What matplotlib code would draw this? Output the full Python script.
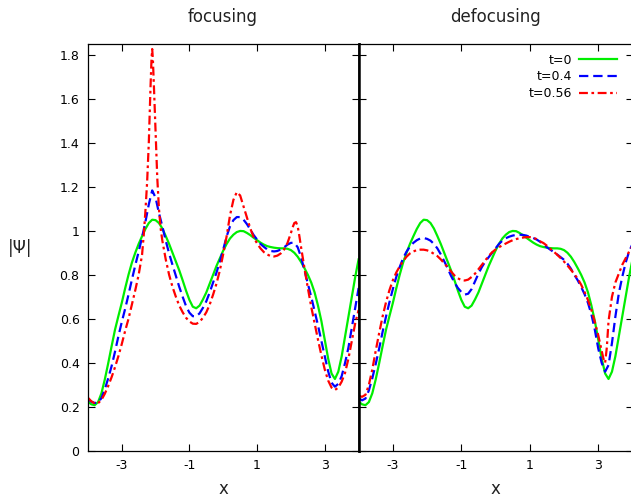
"""
# |Psi| profiles for focusing and defocusing cases
"""

### Packages
import matplotlib
matplotlib.use("Agg")
import matplotlib.pyplot as plt

### Data (every 0.1 in x)
x_grid = [-4.0, -3.9, -3.8, -3.7, -3.6, -3.5, -3.4, -3.3, -3.2, -3.1,
          -3.0, -2.9, -2.8, -2.7, -2.6, -2.5, -2.4, -2.3, -2.2, -2.1,
          -2.0, -1.9, -1.8, -1.7, -1.6, -1.5, -1.4, -1.3, -1.2, -1.1,
          -1.0, -0.9, -0.8, -0.7, -0.6, -0.5, -0.4, -0.3, -0.2, -0.1,
          0.0, 0.1, 0.2, 0.3, 0.4, 0.5, 0.6, 0.7, 0.8, 0.9,
          1.0, 1.1, 1.2, 1.3, 1.4, 1.5, 1.6, 1.7, 1.8, 1.9,
          2.0, 2.1, 2.2, 2.3, 2.4, 2.5, 2.6, 2.7, 2.8, 2.9,
          3.0, 3.1, 3.2, 3.3, 3.4, 3.5, 3.6, 3.7, 3.8, 3.9, 4.0]

# t=0, same initial condition in both panels
psi_t0 = [0.224, 0.212, 0.208, 0.222, 0.262, 0.325, 0.398, 0.475, 0.55, 0.612,
          0.672, 0.738, 0.8, 0.855, 0.9, 0.94, 0.975, 1.008, 1.035, 1.05,
          1.048, 1.035, 1.01, 0.976, 0.94, 0.9, 0.86, 0.82, 0.775, 0.728,
          0.686, 0.655, 0.648, 0.66, 0.688, 0.72, 0.76, 0.8, 0.84, 0.875,
          0.91, 0.94, 0.965, 0.982, 0.994, 0.999, 0.998, 0.99, 0.98, 0.968,
          0.957, 0.946, 0.937, 0.93, 0.926, 0.923, 0.921, 0.92, 0.92, 0.918,
          0.912, 0.9, 0.882, 0.858, 0.83, 0.8, 0.765, 0.72, 0.66, 0.59,
          0.505, 0.42, 0.352, 0.327, 0.36, 0.43, 0.52, 0.61, 0.7, 0.79, 0.87]

# focusing, t=0.4
psi_foc_04 = [0.235, 0.224, 0.218, 0.22, 0.24, 0.28, 0.33, 0.385, 0.45, 0.52,
              0.585, 0.645, 0.71, 0.778, 0.843, 0.905, 0.97, 1.04, 1.12, 1.183,
              1.15, 1.08, 1.02, 0.955, 0.897, 0.845, 0.795, 0.745, 0.7, 0.658,
              0.628, 0.612, 0.611, 0.625, 0.65, 0.68, 0.72, 0.765, 0.81, 0.86,
              0.915, 0.974, 1.02, 1.048, 1.062, 1.062, 1.05, 1.03, 1.005, 0.98,
              0.96, 0.94, 0.927, 0.915, 0.908, 0.906, 0.908, 0.915, 0.925, 0.937,
              0.945, 0.945, 0.925, 0.88, 0.82, 0.76, 0.7, 0.635, 0.57, 0.5,
              0.43, 0.362, 0.31, 0.292, 0.305, 0.34, 0.4, 0.47, 0.56, 0.65, 0.74]

# focusing, t=0.56 (extra points around the narrow peaks)
x_foc_056 = [-4.0, -3.9, -3.8, -3.7, -3.6, -3.5, -3.4, -3.3, -3.2, -3.1,
             -3.0, -2.9, -2.8, -2.7, -2.6, -2.5, -2.4, -2.35, -2.3, -2.25, -2.2,
             -2.15, -2.12, -2.1, -2.08, -2.05, -2.0, -1.95, -1.9, -1.85, -1.8,
             -1.7, -1.6, -1.5, -1.4, -1.3, -1.2, -1.1,
             -1.0, -0.9, -0.8, -0.7, -0.6, -0.5, -0.4, -0.3, -0.2, -0.1,
             0.0, 0.1, 0.2, 0.3, 0.4, 0.5, 0.6, 0.7, 0.8, 0.9,
             1.0, 1.1, 1.2, 1.3, 1.4, 1.5, 1.6, 1.7, 1.8, 1.9,
             2.0, 2.05, 2.1, 2.15, 2.2, 2.25, 2.3, 2.4, 2.5, 2.6, 2.7, 2.8, 2.9,
             3.0, 3.1, 3.2, 3.3, 3.4, 3.5, 3.6, 3.7, 3.8, 3.9, 4.0]
psi_foc_056 = [0.242, 0.226, 0.216, 0.217, 0.232, 0.26, 0.295, 0.335, 0.38, 0.43,
               0.485, 0.545, 0.6, 0.665, 0.73, 0.8, 0.89, 0.98, 1.09, 1.22, 1.4,
               1.65, 1.78, 1.825, 1.78, 1.66, 1.45, 1.24, 1.1, 1.01, 0.955,
               0.87, 0.8, 0.745, 0.7, 0.66, 0.63, 0.605,
               0.588, 0.578, 0.577, 0.586, 0.605, 0.63, 0.665, 0.71, 0.76, 0.82,
               0.895, 0.975, 1.07, 1.14, 1.175, 1.16, 1.11, 1.06, 1.01, 0.97,
               0.942, 0.92, 0.903, 0.892, 0.885, 0.883, 0.887, 0.897, 0.915, 0.945,
               0.99, 1.015, 1.035, 1.039, 1.02, 0.975, 0.925, 0.83, 0.74, 0.655, 0.58, 0.505, 0.435,
               0.37, 0.32, 0.288, 0.277, 0.288, 0.315, 0.355, 0.42, 0.5, 0.58, 0.64]

# defocusing, t=0.4
psi_def_04 = [0.24, 0.23, 0.238, 0.275, 0.33, 0.395, 0.465, 0.54, 0.61, 0.675,
              0.735, 0.79, 0.835, 0.875, 0.905, 0.928, 0.945, 0.957, 0.965, 0.967,
              0.963, 0.955, 0.94, 0.92, 0.893, 0.862, 0.83, 0.795, 0.765, 0.74,
              0.722, 0.71, 0.714, 0.735, 0.77, 0.805, 0.835, 0.86, 0.88, 0.9,
              0.92, 0.94, 0.955, 0.966, 0.973, 0.978, 0.981, 0.982, 0.981, 0.978,
              0.972, 0.967, 0.96, 0.95, 0.937, 0.925, 0.914, 0.903, 0.892, 0.88,
              0.868, 0.85, 0.828, 0.8, 0.775, 0.745, 0.712, 0.672, 0.62, 0.55,
              0.465, 0.4, 0.36, 0.39, 0.49, 0.61, 0.715, 0.79, 0.855, 0.905, 0.94]

# defocusing, t=0.56 (extra points around the sharp minimum)
x_def_056 = [-4.0, -3.9, -3.8, -3.7, -3.6, -3.5, -3.4, -3.3, -3.2, -3.1,
             -3.0, -2.9, -2.8, -2.7, -2.6, -2.5, -2.4, -2.3, -2.2, -2.1,
             -2.0, -1.9, -1.8, -1.7, -1.6, -1.5, -1.4, -1.3, -1.2, -1.1,
             -1.0, -0.9, -0.8, -0.7, -0.6, -0.5, -0.4, -0.3, -0.2, -0.1,
             0.0, 0.1, 0.2, 0.3, 0.4, 0.5, 0.6, 0.7, 0.8, 0.9,
             1.0, 1.1, 1.2, 1.3, 1.4, 1.5, 1.6, 1.7, 1.8, 1.9,
             2.0, 2.1, 2.2, 2.3, 2.4, 2.5, 2.6, 2.7, 2.8, 2.9,
             3.0, 3.1, 3.15, 3.2, 3.25, 3.3, 3.4, 3.5, 3.6, 3.7, 3.8, 3.9, 4.0]
psi_def_056 = [0.251, 0.246, 0.255, 0.3, 0.37, 0.455, 0.535, 0.61, 0.675, 0.73,
               0.775, 0.81, 0.838, 0.862, 0.882, 0.897, 0.906, 0.912, 0.914, 0.914,
               0.911, 0.905, 0.895, 0.885, 0.87, 0.852, 0.835, 0.815, 0.797, 0.784,
               0.776, 0.774, 0.778, 0.79, 0.805, 0.825, 0.845, 0.865, 0.886, 0.902,
               0.915, 0.925, 0.934, 0.942, 0.95, 0.957, 0.962, 0.966, 0.969, 0.971,
               0.971, 0.968, 0.962, 0.952, 0.944, 0.932, 0.918, 0.905, 0.891, 0.876,
               0.86, 0.842, 0.823, 0.803, 0.782, 0.755, 0.722, 0.685, 0.64, 0.585,
               0.525, 0.455, 0.42, 0.4, 0.47, 0.59, 0.7, 0.765, 0.805, 0.845, 0.875, 0.905, 0.93]

labels = ["t=0", "t=0.4", "t=0.56"]
x_ticks = [-3, -1, 1, 3]
y_ticks = [0, 0.2, 0.4, 0.6, 0.8, 1, 1.2, 1.4, 1.6, 1.8]
y_tick_labels = ["0", "0.2", "0.4", "0.6", "0.8", "1", "1.2", "1.4", "1.6", "1.8"]

### Figure
W, H = 631, 497
fig = plt.figure(figsize=(W / 100, H / 100), dpi=100)
ax1 = fig.add_axes([87.9 / W, 46 / H, (358.6 - 87.9) / W, (451 - 43.5) / H])
ax2 = fig.add_axes([358.6 / W, 46 / H, (632.5 - 358.6) / W, (451 - 43.5) / H])

styles = [
    dict(color="#00ee00", lw=1.6, ls="-"),
    dict(color="#0000ff", lw=1.6, dashes=(4.2, 2.2)),
    dict(color="#ff0000", lw=1.6, dashes=(4.0, 1.6, 1.2, 1.6)),
]

# focusing
ax1.plot(x_grid, psi_t0, label=labels[0], **styles[0])
ax1.plot(x_grid, psi_foc_04, label=labels[1], **styles[1])
ax1.plot(x_foc_056, psi_foc_056, label=labels[2], **styles[2])
# defocusing
ax2.plot(x_grid, psi_t0, label=labels[0], **styles[0])
ax2.plot(x_grid, psi_def_04, label=labels[1], **styles[1])
ax2.plot(x_def_056, psi_def_056, label=labels[2], **styles[2])

for ax in (ax1, ax2):
    ax.set_xlim(-4, 4)
    ax.set_ylim(0, 1.85)
    ax.set_xticks(x_ticks)
    ax.set_xticklabels([str(t) for t in x_ticks])
    ax.set_yticks(y_ticks)
    ax.set_yticklabels(y_tick_labels)
    ax.tick_params(direction="in", length=5, width=0.8, top=True, right=True,
                   labelsize=9, colors="black")
    ax.tick_params(axis="x", pad=6)
    ax.tick_params(axis="y", pad=6)
    for s in ax.spines.values():
        s.set_linewidth(0.9)

ax2.tick_params(labelleft=False)
# thick shared border in the middle
ax1.spines["right"].set_linewidth(1.8)
ax2.spines["left"].set_linewidth(1.8)

ax2.legend(loc="upper right", bbox_to_anchor=(0.943, 0.975), frameon=False, fontsize=9,
           markerfirst=False, handlelength=3.0, handletextpad=0.55, labelspacing=0.3,
           borderaxespad=0, borderpad=0)

# titles and labels
fig.text(223 / W, 1 - 17 / H, "focusing", ha="center", va="center", fontsize=12, color="#222222")
fig.text(495.5 / W, 1 - 17 / H, "defocusing", ha="center", va="center", fontsize=12, color="#222222")
fig.text(223 / W, 1 - 489 / H, "x", ha="center", va="center", fontsize=12, color="#222222")
fig.text(495 / W, 1 - 489 / H, "x", ha="center", va="center", fontsize=12, color="#222222")
fig.text(20 / W, 1 - 248 / H, "|Ψ|", ha="center", va="center", fontsize=12, color="#222222")

fig.savefig("out.png", dpi=100)
plt.close()
